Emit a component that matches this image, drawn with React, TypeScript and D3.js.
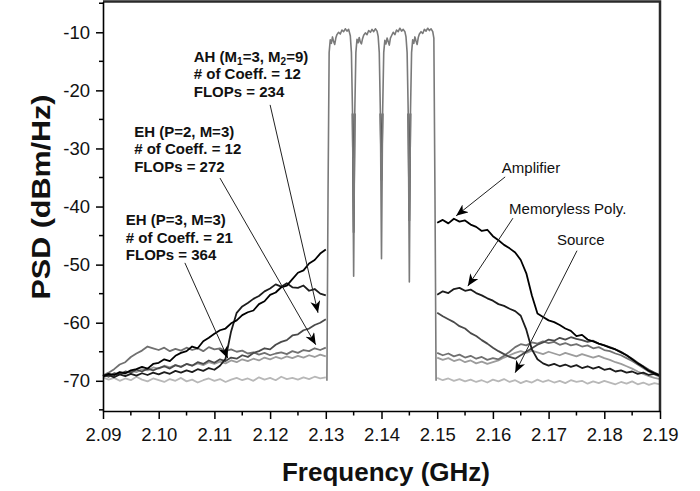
import * as d3 from "d3";
import { useEffect, useRef } from "react";

// sampling grid of the out-of-band traces (GHz)
const freqLeft = d3.range(41).map((i) => 2.09 + i * 0.001);
const freqRight = d3.range(41).map((i) => 2.15 + i * 0.001);

// lower side band, 2.09 .. 2.13 GHz (dBm/Hz)
const sourceLeft = [
  -69.4, -69.8, -69.5, -70.0, -69.6, -69.9, -69.3, -69.8, -70.1, -69.6,
  -69.9, -70.2, -69.7, -70.0, -69.5, -70.1, -69.8, -70.3, -69.9, -69.6,
  -70.0, -69.7, -70.2, -69.8, -69.5, -69.9, -69.6, -70.0, -69.4, -69.8,
  -69.5, -69.9, -69.3, -69.7, -69.5, -69.8, -69.4, -69.7, -69.3, -69.6, -69.4,
];
const amplifierLeft = [
  -69.2, -68.8, -69.0, -68.5, -68.7, -68.2, -68.0, -67.6, -67.9, -67.1,
  -66.9, -66.3, -66.6, -65.7, -65.2, -64.9, -64.1, -64.4, -63.2, -62.6,
  -61.9, -61.3, -61.0, -60.1, -59.6, -58.7, -58.2, -57.9, -56.8, -56.3,
  -55.2, -54.8, -53.9, -53.6, -52.5, -51.4, -51.0, -49.8, -49.2, -48.1, -47.4,
];
const memorylessLeft = [
  -69.3, -69.0, -69.4, -68.9, -69.2, -68.8, -69.1, -68.7, -69.0, -68.6,
  -68.9, -68.5, -68.8, -68.3, -68.6, -68.2, -68.5, -68.0, -68.3, -67.8,
  -68.1, -67.4, -66.2, -61.5, -58.3, -57.2, -56.6, -55.9, -55.4, -54.6,
  -54.1, -53.4, -53.8, -53.2, -53.9, -54.0, -53.6, -54.5, -54.2, -55.0, -55.3,
];
const ahLeft = [
  -69.0, -69.3, -68.7, -68.9, -68.4, -68.6, -68.1, -68.4, -67.9, -68.2,
  -67.8, -67.5, -67.9, -67.3, -67.6, -67.1, -67.4, -66.8, -67.1, -66.5,
  -66.9, -66.3, -66.6, -66.0, -66.2, -65.6, -65.9, -65.2, -64.9, -64.4,
  -64.6, -63.8, -63.3, -63.0, -62.2, -62.0, -61.3, -61.0, -60.4, -60.0, -59.4,
];
const ehP2Left = [
  -69.1, -68.6, -68.0, -67.2, -66.8, -65.9, -65.3, -64.8, -64.1, -64.4,
  -64.7, -64.3, -64.9, -64.5, -64.8, -64.3, -64.7, -64.4, -64.9, -64.2,
  -64.6, -64.4, -64.9, -64.6, -65.0, -64.8, -65.3, -65.1, -65.5, -65.2,
  -65.6, -65.3, -65.1, -65.4, -64.9, -65.2, -64.7, -64.9, -64.4, -64.7, -64.3,
];
const ehP3Left = [
  -69.2, -68.9, -69.1, -68.6, -68.8, -68.3, -68.5, -68.0, -68.2, -67.7,
  -67.9, -67.4, -67.7, -67.3, -67.6, -67.1, -67.4, -67.0, -67.3, -66.8,
  -67.1, -66.7, -67.0, -66.5, -66.8, -66.3, -66.6, -66.2, -66.5, -66.0,
  -66.3, -65.9, -66.2, -65.8, -66.1, -65.7, -66.0, -65.6, -65.9, -65.5, -65.8,
];

// upper side band, 2.15 .. 2.19 GHz (dBm/Hz)
const sourceRight = [
  -69.5, -69.9, -69.6, -70.0, -69.7, -70.1, -69.8, -70.2, -69.9, -70.3,
  -69.8, -70.1, -69.7, -70.2, -69.9, -70.4, -70.0, -70.3, -69.8, -70.2,
  -69.9, -70.3, -70.0, -70.4, -69.9, -70.2, -70.0, -70.5, -70.1, -70.4,
  -70.0, -70.3, -70.6, -70.2, -70.5, -70.1, -70.6, -70.3, -70.7, -70.4, -70.6,
];
const amplifierRight = [
  -42.8, -42.3, -42.9, -42.1, -42.6, -42.4, -43.1, -43.5, -44.2, -44.0,
  -45.1, -45.8, -46.6, -47.2, -47.9, -49.2, -51.5, -55.3, -58.4, -59.0,
  -59.6, -59.9, -60.4, -61.0, -61.4, -62.3, -62.1, -62.9, -63.2, -63.6,
  -63.9, -64.3, -64.6, -65.1, -65.6, -66.3, -67.0, -67.6, -68.3, -68.7, -69.1,
];
const memorylessRight = [
  -55.2, -54.6, -54.9, -54.2, -54.0, -54.5, -54.3, -54.9, -55.3, -55.8,
  -56.2, -56.8, -57.1, -57.6, -58.0, -58.8, -61.2, -64.6, -66.3, -67.0,
  -67.4, -67.1, -67.5, -67.2, -67.6, -67.3, -67.8, -67.5, -67.9, -67.6,
  -68.1, -67.9, -68.4, -68.2, -68.6, -68.4, -68.8, -68.6, -69.0, -68.8, -69.1,
];
const ahRight = [
  -58.3, -58.9, -59.4, -59.9, -60.6, -61.0, -61.8, -62.3, -63.0, -63.6,
  -64.3, -64.9, -65.4, -65.9, -66.2, -65.6, -65.0, -64.4, -63.8, -63.4,
  -62.9, -63.1, -62.6, -62.9, -62.5, -62.8, -63.0, -63.3, -63.1, -63.6,
  -63.9, -64.2, -64.6, -65.0, -65.6, -66.2, -66.9, -67.5, -68.1, -68.6, -69.0,
];
const ehP2Right = [
  -65.2, -65.6, -65.3, -65.8, -65.5, -66.0, -65.7, -66.2, -65.9, -66.4,
  -66.1, -66.3, -65.7, -65.0, -64.2, -63.7, -63.9, -63.4, -63.6, -63.2,
  -63.5, -63.3, -63.8, -63.5, -63.9, -63.7, -64.1, -63.9, -64.4, -64.2,
  -64.7, -64.9, -65.3, -65.6, -66.1, -66.6, -67.2, -67.8, -68.4, -68.9, -69.3,
];
const ehP3Right = [
  -66.0, -66.4, -66.1, -66.6, -66.3, -66.8, -66.5, -67.0, -66.7, -67.1,
  -66.8, -66.5, -66.0, -65.6, -65.2, -64.9, -65.2, -64.8, -65.1, -65.4,
  -65.0, -65.3, -65.6, -65.2, -65.5, -65.8, -65.4, -65.7, -66.0, -65.7,
  -66.1, -66.4, -66.8, -67.1, -67.5, -67.9, -68.4, -68.8, -69.2, -69.5, -69.7,
];

// four WCDMA carriers, 2.13 .. 2.15 GHz
const carrierFreq = [
  2.1302, 2.1304, 2.1306, 2.1308, 2.131, 2.1312, 2.1314, 2.1316, 2.1318, 2.132,
  2.1323, 2.1326, 2.1329, 2.1332, 2.1335, 2.1338, 2.1341, 2.1344, 2.1346, 2.1348, 2.135,
  2.1352, 2.1354, 2.1356, 2.1358, 2.136, 2.1362, 2.1364, 2.1366, 2.1368, 2.1371,
  2.1374, 2.1377, 2.138, 2.1383, 2.1386, 2.1389, 2.1392, 2.1394, 2.1396, 2.1398, 2.14,
  2.1402, 2.1404, 2.1406, 2.1408, 2.141, 2.1412, 2.1414, 2.1416, 2.1418, 2.1421,
  2.1424, 2.1427, 2.143, 2.1433, 2.1436, 2.1439, 2.1442, 2.1444, 2.1446, 2.1448, 2.145,
  2.1452, 2.1454, 2.1456, 2.1458, 2.146, 2.1462, 2.1464, 2.1466, 2.1468, 2.1471,
  2.1474, 2.1477, 2.148, 2.1483, 2.1486, 2.1489, 2.1492, 2.1494, 2.1496, 2.1498,
];
const carrierPsd = [
  -70, -38, -13.5, -11.3, -11.9, -10.8, -11.6, -12.1, -11.0, -10.4,
  -10.0, -10.3, -9.6, -9.9, -9.4, -9.8, -9.5, -10.6, -13.5, -24, -52,
  -24, -13.5, -11.2, -11.8, -10.9, -11.7, -12.0, -11.1, -10.5, -10.1,
  -10.4, -9.7, -10.0, -9.5, -9.9, -9.4, -9.8, -10.7, -13.5, -24, -49,
  -24, -13.5, -11.4, -12.0, -11.0, -11.6, -12.2, -11.0, -10.6, -10.0,
  -10.4, -9.6, -9.9, -9.3, -9.8, -9.5, -9.9, -10.8, -13.5, -24, -53,
  -24, -13.5, -11.3, -11.9, -10.8, -11.5, -12.1, -10.9, -10.3, -9.9,
  -10.2, -9.5, -9.8, -9.3, -9.7, -9.4, -9.9, -11.0, -38, -70,
];
// shallower notches of the amplifier output between carriers
const ampDipFreq = [2.135, 2.14, 2.145];
const ampDipPsd = [-44.5, -35.5, -42.5];

const xTicks = [2.09, 2.1, 2.11, 2.12, 2.13, 2.14, 2.15, 2.16, 2.17, 2.18, 2.19];
const yTicks = [-10, -20, -30, -40, -50, -60, -70];

export default function App() {
  const ref = useRef<SVGSVGElement>(null);

  useEffect(() => {
    if (!ref.current) return;
    const svg = d3.select(ref.current);
    svg.selectAll("*").remove();

    const width = 700;
    const height = 491;
    const left = 103;
    const right = 660;
    const top = 1.5;
    const bottom = 411;
    const font = "'Liberation Sans', Arial, sans-serif";

    svg.attr("width", width).attr("height", height);

    const x = d3.scaleLinear().domain([2.09, 2.19]).range([left, right]);
    const y = d3.scaleLinear().domain([-75.2, -4.7]).range([bottom, top]);

    const line = d3
      .line<[number, number]>()
      .x((d) => x(d[0]))
      .y((d) => y(d[1]));

    const traces = [
      { l: ehP3Left, r: ehP3Right, color: "#9c9c9c" },
      { l: sourceLeft, r: sourceRight, color: "#b8b8b8" },
      { l: ehP2Left, r: ehP2Right, color: "#707070" },
      { l: ahLeft, r: ahRight, color: "#4a4a4a" },
      { l: memorylessLeft, r: memorylessRight, color: "#1c1c1c" },
      { l: amplifierLeft, r: amplifierRight, color: "#000" },
    ];

    const plot = svg.append("g");
    traces.forEach((t) => {
      plot
        .append("path")
        .attr("d", line(freqLeft.map((f, i) => [f, t.l[i]] as [number, number])))
        .attr("fill", "none")
        .attr("stroke", t.color)
        .attr("stroke-width", 1.8)
        .attr("stroke-linejoin", "round");
      plot
        .append("path")
        .attr("d", line(freqRight.map((f, i) => [f, t.r[i]] as [number, number])))
        .attr("fill", "none")
        .attr("stroke", t.color)
        .attr("stroke-width", 1.8)
        .attr("stroke-linejoin", "round");
    });

    // darker notches, then the carrier trace on top
    ampDipFreq.forEach((f, i) => {
      plot
        .append("path")
        .attr(
          "d",
          line([
            [f - 0.0002, -24],
            [f, ampDipPsd[i]],
            [f + 0.0002, -24],
          ])
        )
        .attr("fill", "none")
        .attr("stroke", "#333")
        .attr("stroke-width", 1.8);
    });
    plot
      .append("path")
      .attr("d", line(carrierFreq.map((f, i) => [f, carrierPsd[i]] as [number, number])))
      .attr("fill", "none")
      .attr("stroke", "#7a7a7a")
      .attr("stroke-width", 1.6)
      .attr("stroke-linejoin", "round");

    // frame
    svg
      .append("path")
      .attr("d", `M${left},${top}H${right}V${bottom}`)
      .attr("fill", "none")
      .attr("stroke", "#2a2a2a")
      .attr("stroke-width", 2.5);

    // axes
    const minorX = d3.range(10).map((i) => 2.095 + i * 0.01);
    const minorY = d3.range(8).map((i) => -5 - i * 10);

    const xAxis = svg
      .append("g")
      .attr("transform", `translate(0,${bottom})`)
      .call(
        d3
          .axisBottom(x)
          .tickValues(xTicks)
          .tickSize(8)
          .tickSizeOuter(0)
          .tickPadding(9)
          .tickFormat((d) => d3.format(".2f")(d as number))
      );
    xAxis.select(".domain").attr("stroke", "#000").attr("stroke-width", 1.6);
    xAxis.selectAll(".tick line").attr("stroke", "#000").attr("stroke-width", 1.5);
    xAxis
      .selectAll(".tick text")
      .attr("font-family", font)
      .attr("font-size", 18.5)
      .attr("fill", "#111");
    xAxis
      .selectAll(".minor")
      .data(minorX)
      .enter()
      .append("line")
      .attr("x1", (d) => x(d))
      .attr("x2", (d) => x(d))
      .attr("y1", 0)
      .attr("y2", 4.5)
      .attr("stroke", "#000")
      .attr("stroke-width", 1.5);

    const yAxis = svg
      .append("g")
      .attr("transform", `translate(${left},0)`)
      .call(
        d3
          .axisLeft(y)
          .tickValues(yTicks)
          .tickSize(7)
          .tickSizeOuter(0)
          .tickPadding(6)
          .tickFormat((d) => String(d))
      );
    yAxis.select(".domain").attr("stroke", "#000").attr("stroke-width", 1.6);
    yAxis.selectAll(".tick line").attr("stroke", "#000").attr("stroke-width", 1.5);
    yAxis
      .selectAll(".tick text")
      .attr("font-family", font)
      .attr("font-size", 18.5)
      .attr("fill", "#111");
    yAxis
      .selectAll(".minor")
      .data(minorY)
      .enter()
      .append("line")
      .attr("x1", 0)
      .attr("x2", -4)
      .attr("y1", (d) => y(d))
      .attr("y2", (d) => y(d))
      .attr("stroke", "#000")
      .attr("stroke-width", 1.5);

    // titles
    svg
      .append("text")
      .attr("x", 386)
      .attr("y", 481)
      .attr("text-anchor", "middle")
      .attr("font-family", font)
      .attr("font-weight", "bold")
      .attr("font-size", 26)
      .attr("fill", "#111")
      .text("Frequency (GHz)");
    svg
      .append("text")
      .attr("transform", "translate(50,197) rotate(-90)")
      .attr("text-anchor", "middle")
      .attr("font-family", font)
      .attr("font-weight", "bold")
      .attr("font-size", 26)
      .attr("fill", "#111")
      .attr("textLength", 205)
      .attr("lengthAdjust", "spacingAndGlyphs")
      .text("PSD (dBm/Hz)");

    // arrow head
    svg
      .append("defs")
      .append("marker")
      .attr("id", "head")
      .attr("markerUnits", "userSpaceOnUse")
      .attr("markerWidth", 14)
      .attr("markerHeight", 12)
      .attr("refX", 12)
      .attr("refY", 5)
      .attr("orient", "auto")
      .append("path")
      .attr("d", "M0,0 L12,5 L0,10 L3.5,5 Z")
      .attr("fill", "#000");

    // annotations, in data coordinates: [freq, psd]
    const arrows: [number, number, number, number][] = [
      [2.1200, -22.5, 2.1286, -58.3],
      [2.1110, -35.1, 2.1282, -63.8],
      [2.1047, -49.7, 2.1124, -66.1],
      [2.1622, -34.9, 2.1534, -41.6],
      [2.1636, -42.0, 2.1555, -53.7],
      [2.1751, -47.6, 2.1640, -68.6],
    ];
    arrows.forEach((a) => {
      svg
        .append("line")
        .attr("x1", x(a[0]))
        .attr("y1", y(a[1]))
        .attr("x2", x(a[2]))
        .attr("y2", y(a[3]))
        .attr("stroke", "#222")
        .attr("stroke-width", 1)
        .attr("marker-end", "url(#head)");
    });

    const boldNote = (f: number, v: number, lines: string[][]) => {
      const t = svg
        .append("text")
        .attr("font-family", font)
        .attr("font-weight", "bold")
        .attr("font-size", 15)
        .attr("fill", "#111");
      lines.forEach((ln, k) => {
        ln.forEach((part, j) => {
          const isSub = part.startsWith("_");
          const s = t.append("tspan").text(isSub ? part.slice(1) : part);
          if (j === 0) s.attr("x", x(f)).attr("y", y(v) + k * 17.5);
          if (isSub) s.attr("font-size", 10).attr("dy", 3);
          else if (j > 0 && ln[j - 1].startsWith("_")) s.attr("dy", -3);
        });
      });
    };
    boldNote(2.1063, -15.1, [
      ["AH (M", "_1", "=3, M", "_2", "=9)"],
      ["# of Coeff. = 12"],
      ["FLOPs = 234"],
    ]);
    boldNote(2.0956, -28.0, [["EH (P=2, M=3)"], ["# of Coeff. = 12"], ["FLOPs = 272"]]);
    boldNote(2.0941, -43.2, [["EH (P=3, M=3)"], ["# of Coeff. = 21"], ["FLOPs = 364"]]);

    const plainNotes: [number, number, string][] = [
      [2.1616, -34.2, "Amplifier"],
      [2.1629, -41.3, "Memoryless Poly."],
      [2.1715, -46.6, "Source"],
    ];
    plainNotes.forEach((n) => {
      svg
        .append("text")
        .attr("x", x(n[0]))
        .attr("y", y(n[1]))
        .attr("font-family", font)
        .attr("font-size", 15)
        .attr("fill", "#111")
        .text(n[2]);
    });
  }, []);

  return (
    <svg
      ref={ref}
      style={{ position: "absolute", left: 0, top: 0, background: "#fff" }}
    />
  );
}
